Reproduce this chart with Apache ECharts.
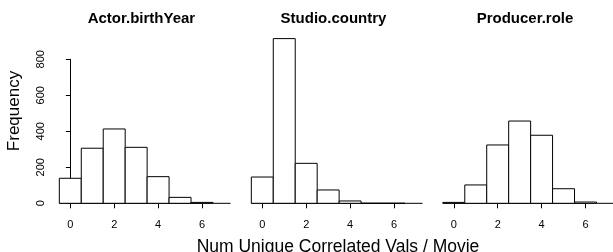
<!DOCTYPE html>
<html>
  <script src="https://cdn.jsdelivr.net/npm/echarts@6/dist/echarts.min.js"></script>
  <head>
    <meta charset="utf-8" />
    <title>Num Unique Correlated Vals / Movie</title>
  </head>
  <body style="margin: 0;">
    <div id="main" style="width: 613px; height: 252px;"></div>
  </body>
  <script>
    // histogram bins (unit width, centred on integers)
    var binEdges = [-0.5, 0.5, 1.5, 2.5, 3.5, 4.5, 5.5, 6.5]
    var actorCounts = [139, 306, 413, 311, 148, 33, 5]
    var studioCounts = [146, 915, 222, 74, 13, 0, 0]
    var producerCounts = [5, 102, 324, 457, 378, 81, 7]
    var panelTitles = ['Actor.birthYear', 'Studio.country', 'Producer.role']
    var baselineSpan = [-0.5, 7.3]
    var xTicks = [0, 2, 4, 6]
    var yTicks = [0, 200, 400, 600, 800]

    var font = 'Liberation Sans'
    var panelLeft = [70.3, 262.3, 453.8]
    var titleCenter = [141.4, 333.5, 525]

    function binData(counts) {
      var out = []
      for (var i = 0; i < counts.length; i++) {
        out.push([binEdges[i], binEdges[i + 1], counts[i]])
      }
      return out
    }

    function renderBin(params, api) {
      var p0 = api.coord([api.value(0), 0])
      var p1 = api.coord([api.value(1), api.value(2)])
      return {
        type: 'rect',
        shape: { x: p0[0], y: p1[1], width: p1[0] - p0[0], height: p0[1] - p1[1] },
        style: { fill: '#fff', stroke: '#000', lineWidth: 1 },
      }
    }

    function renderBase(params, api) {
      var a = api.coord([api.value(0), 0])
      var b = api.coord([api.value(1), 0])
      return {
        type: 'line',
        shape: { x1: a[0], y1: a[1], x2: b[0], y2: b[1] },
        style: { stroke: '#000', lineWidth: 1 },
      }
    }

    var allCounts = [actorCounts, studioCounts, producerCounts]
    var grids = [], xAxes = [], yAxes = [], series = [], texts = []

    for (var k = 0; k < 3; k++) {
      grids.push({ left: panelLeft[k], width: 131.7, top: 59.3, height: 144 })
      texts.push({
        type: 'text',
        x: titleCenter[k],
        y: 19,
        style: {
          text: panelTitles[k],
          font: 'bold 15px ' + font,
          fill: '#000',
          align: 'center',
          verticalAlign: 'middle',
        },
      })
      xAxes.push({
        gridIndex: k,
        type: 'value',
        min: xTicks[0],
        max: xTicks[xTicks.length - 1],
        interval: 2,
        offset: 7.4,
        splitLine: { show: false },
        axisLine: { lineStyle: { color: '#000', width: 1 } },
        axisTick: { length: 5, lineStyle: { color: '#000' } },
        axisLabel: { fontFamily: font, fontSize: 11, color: '#000', margin: 9 },
      })
      yAxes.push({
        gridIndex: k,
        type: 'value',
        min: yTicks[0],
        max: yTicks[yTicks.length - 1],
        interval: 200,
        show: k === 0,
        offset: 18.6,
        splitLine: { show: false },
        axisLine: { show: true, lineStyle: { color: '#000', width: 1 } },
        axisTick: { show: true, length: 4.5, lineStyle: { color: '#000' } },
        axisLabel: { rotate: 90, fontFamily: font, fontSize: 11, color: '#000', margin: 5 },
      })
      series.push({
        type: 'custom',
        xAxisIndex: k,
        yAxisIndex: k,
        clip: false,
        renderItem: renderBase,
        data: [baselineSpan],
        silent: true,
      })
      series.push({
        type: 'custom',
        xAxisIndex: k,
        yAxisIndex: k,
        clip: false,
        renderItem: renderBin,
        data: binData(allCounts[k]),
      })
    }

    texts.push({
      type: 'text',
      x: 14.5,
      y: 111,
      rotation: Math.PI / 2,
      style: {
        text: 'Frequency',
        font: '17px ' + font,
        fill: '#000',
        align: 'center',
        verticalAlign: 'middle',
      },
    })
    texts.push({
      type: 'text',
      x: 338,
      y: 247,
      style: {
        text: 'Num Unique Correlated Vals / Movie',
        font: '17.5px ' + font,
        fill: '#000',
        align: 'center',
        verticalAlign: 'middle',
      },
    })

    var myChart = echarts.init(document.getElementById('main'))
    var option = {
      animation: false,
      grid: grids,
      xAxis: xAxes,
      yAxis: yAxes,
      series: series,
      graphic: texts,
    }
    option && myChart.setOption(option)
  </script>
</html>
